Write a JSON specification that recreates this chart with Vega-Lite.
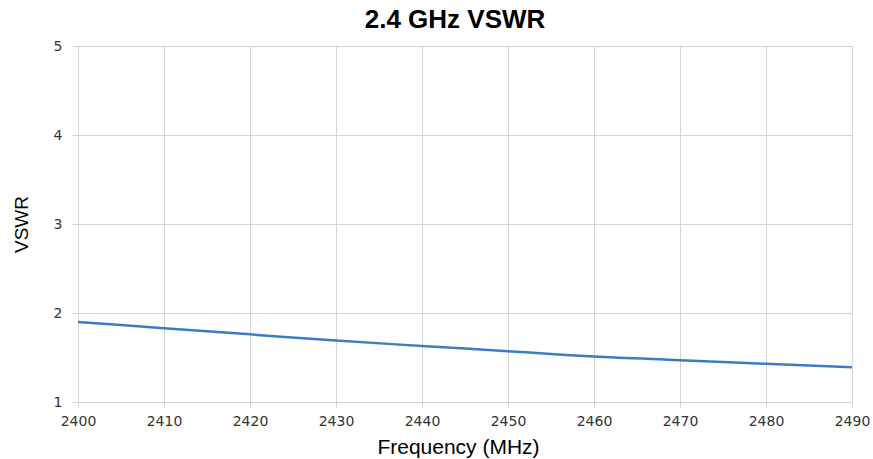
{
  "$schema": "https://vega.github.io/schema/vega-lite/v6.json",
  "autosize": {"type": "none"},
  "width": 774,
  "height": 356,
  "padding": {"left": 78, "top": 46, "right": 21, "bottom": 57},
  "background": "white",
  "title": {
    "text": "2.4 GHz VSWR",
    "font": "Liberation Sans",
    "fontSize": 26,
    "fontWeight": "bold",
    "color": "#000000",
    "anchor": "middle",
    "dx": -10,
    "offset": 6
  },
  "data": {
    "values": [
      {"freq": 2400, "vswr": 1.90},
      {"freq": 2410, "vswr": 1.83},
      {"freq": 2420, "vswr": 1.76},
      {"freq": 2430, "vswr": 1.69},
      {"freq": 2440, "vswr": 1.63},
      {"freq": 2450, "vswr": 1.57},
      {"freq": 2455, "vswr": 1.54},
      {"freq": 2460, "vswr": 1.51},
      {"freq": 2470, "vswr": 1.47},
      {"freq": 2480, "vswr": 1.43},
      {"freq": 2490, "vswr": 1.39}
    ]
  },
  "mark": {"type": "line", "color": "#3b7dc4", "strokeWidth": 2.5, "interpolate": "monotone"},
  "encoding": {
    "x": {
      "field": "freq",
      "type": "quantitative",
      "scale": {"domain": [2400, 2490], "nice": false, "zero": false},
      "axis": {
        "title": "Frequency (MHz)",
        "values": [2400, 2410, 2420, 2430, 2440, 2450, 2460, 2470, 2480, 2490],
        "format": "d",
        "grid": true,
        "labelFlush": false,
        "gridColor": "#d4d4d4",
        "domainColor": "#d4d4d4",
        "tickColor": "#d4d4d4",
        "tickSize": 6,
        "labelFont": "DejaVu Sans",
        "labelFontSize": 14,
        "labelColor": "#333333",
        "labelPadding": 6,
        "titleFont": "Liberation Sans",
        "titleFontSize": 21,
        "titleFontWeight": "normal",
        "titleColor": "#000000",
        "titlePadding": 8,
        "titleX": 380
      }
    },
    "y": {
      "field": "vswr",
      "type": "quantitative",
      "scale": {"domain": [1, 5], "nice": false, "zero": false},
      "axis": {
        "title": "VSWR",
        "values": [1, 2, 3, 4, 5],
        "grid": true,
        "gridColor": "#d4d4d4",
        "domain": false,
        "tickColor": "#d4d4d4",
        "tickSize": 6,
        "labelFont": "DejaVu Sans",
        "labelFontSize": 14,
        "labelColor": "#333333",
        "labelPadding": 10,
        "titleFont": "Liberation Sans",
        "titleFontSize": 19,
        "titleFontWeight": "normal",
        "titleColor": "#000000",
        "titlePadding": 22
      }
    }
  },
  "config": {"view": {"stroke": "#d4d4d4"}}
}
